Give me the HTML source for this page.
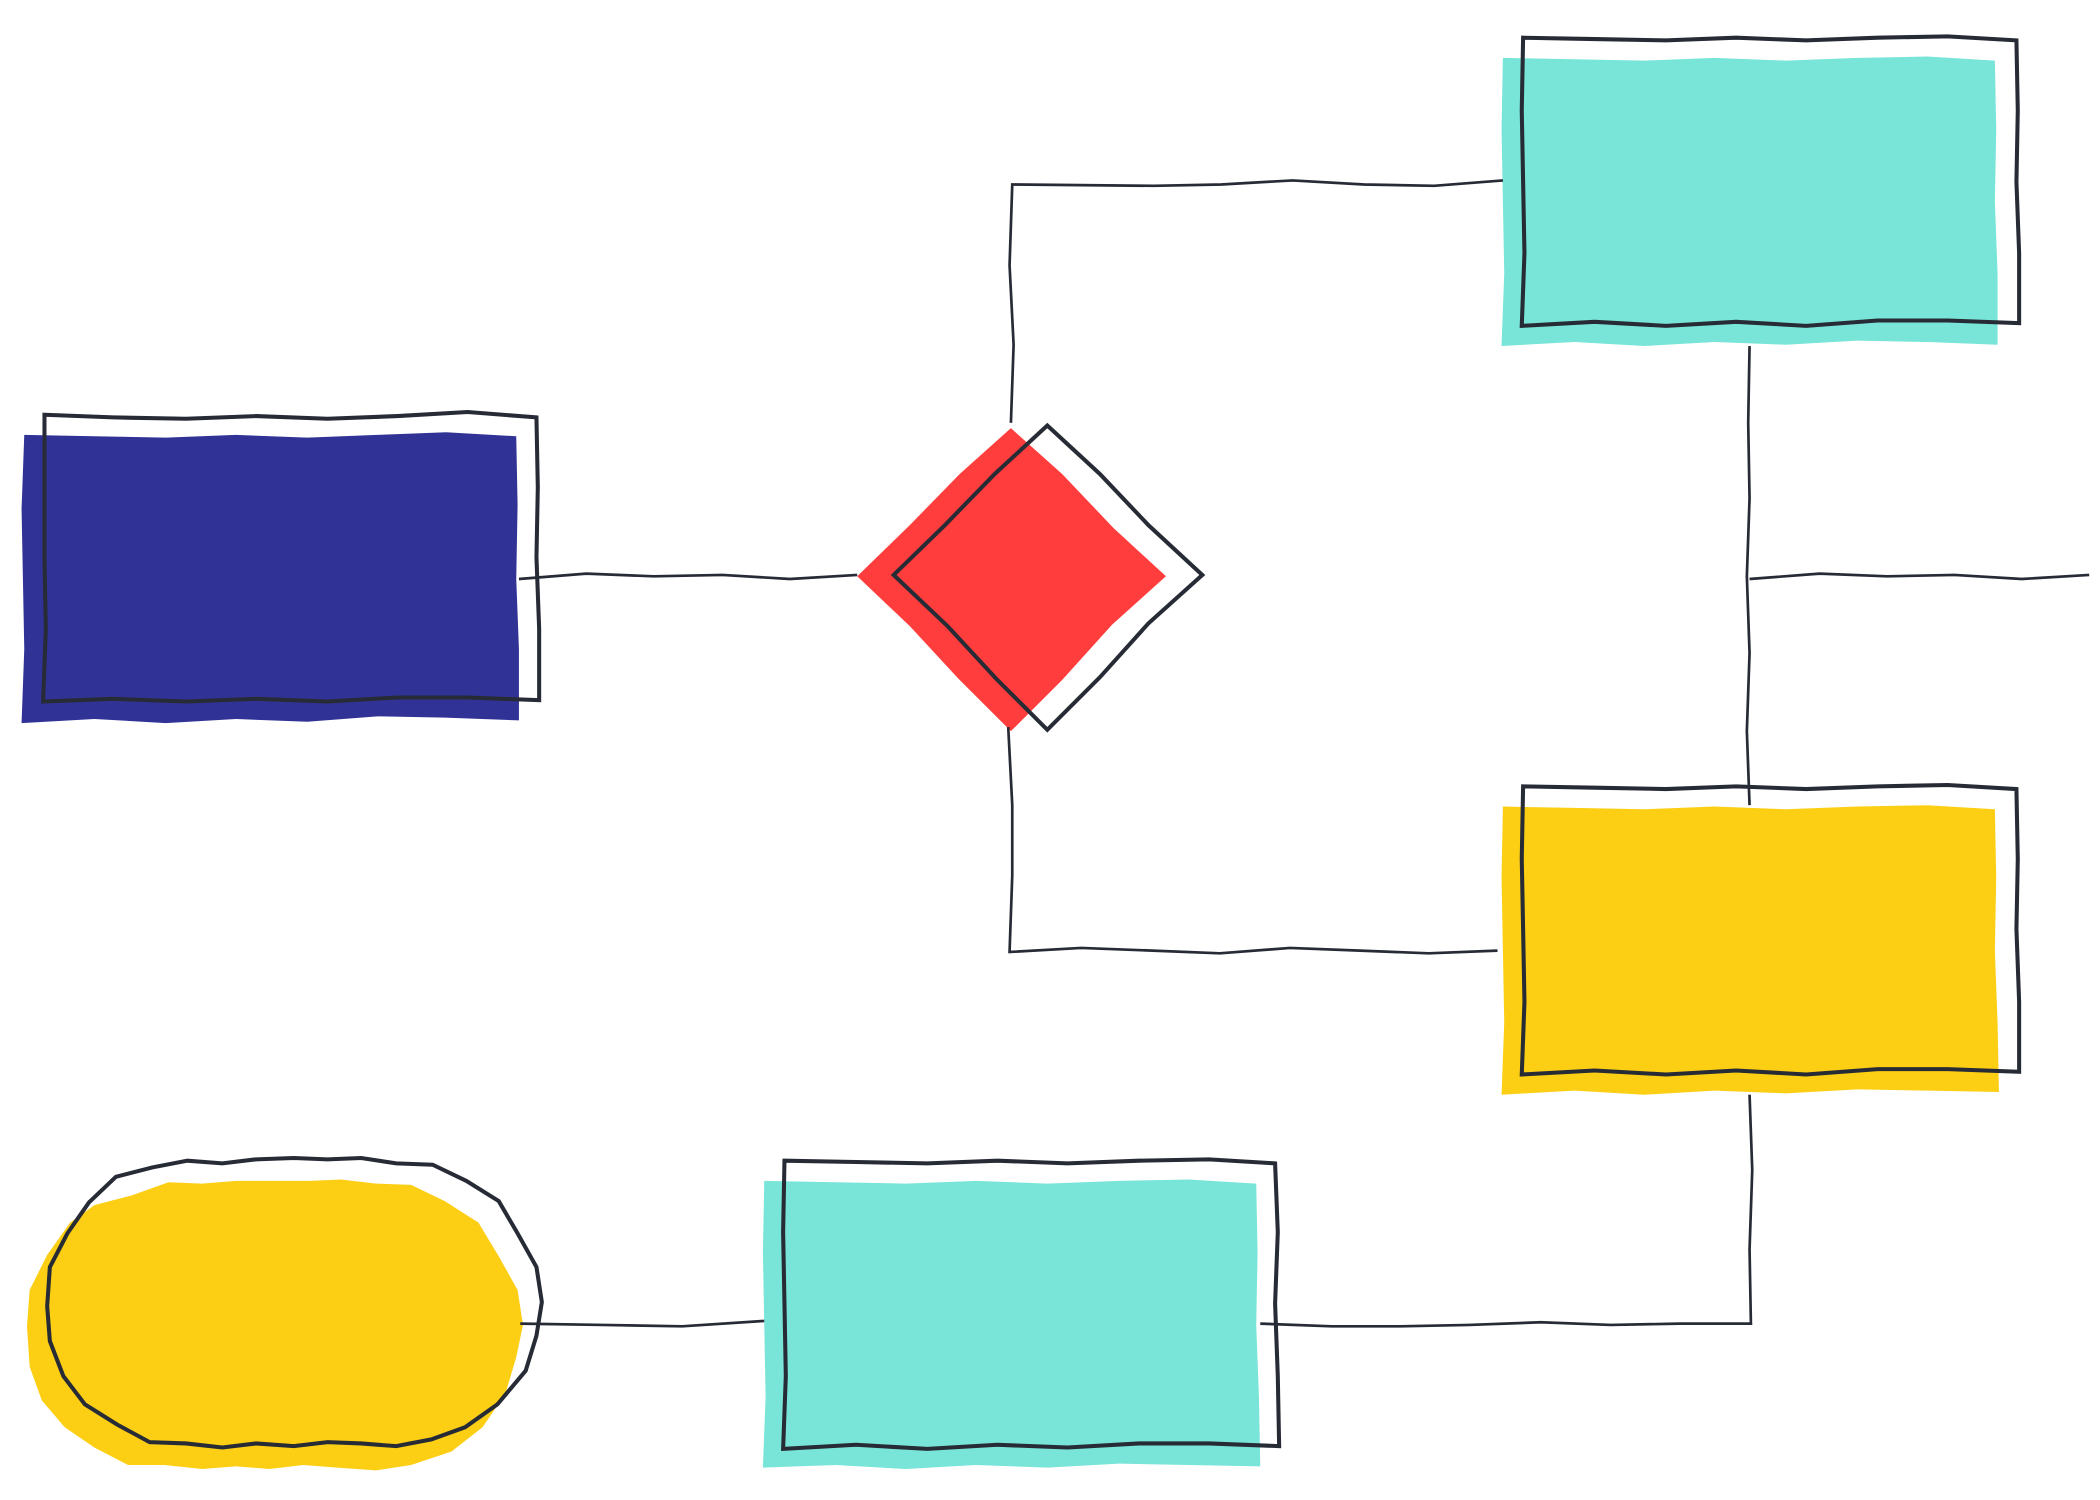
<!DOCTYPE html>
<html><head><meta charset="utf-8"><style>html,body{margin:0;padding:0;background:#fff}svg{display:block}</style></head>
<body>
<svg width="2100" height="1500" viewBox="0 0 1558 1114" preserveAspectRatio="none" xmlns="http://www.w3.org/2000/svg">
<g stroke="none">
<polygon fill="#303395" points="18,323 70,324 123,325 175,323 228,325 280,323 331,321 383,324 384,375 383,430 385,482 385,535 330,533 280,532 228,536 175,534 123,537 70,534 16,537 18,482 17,430 16,378"/>
<polygon fill="#ff3d3d" points="750,318 788,352 826,392 865,428 825,464 788,505 750,543 711,504 675,465 636,428 675,390 712,352"/>
<polygon fill="#78e5d8" points="1115,43 1168,44 1220,45 1272,43 1325,45 1378,43 1430,42 1480,45 1481,96 1480,150 1482,203 1482,256 1430,254 1378,253 1325,256 1272,254 1220,257 1168,254 1114,257 1116,203 1115,150 1114,96"/>
<polygon fill="#fccf14" points="1115,599 1168,600 1220,601 1272,599 1325,601 1378,599 1430,598 1480,601 1481,652 1480,706 1482,759 1483,811 1430,810 1378,809 1325,812 1272,810 1220,813 1168,810 1114,813 1116,759 1115,706 1114,652"/>
<polygon fill="#78e5d8" points="567,877 620,878 672,879 724,877 777,879 830,877 882,876 932,879 933,930 932,984 934,1037 935,1089 882,1088 830,1087 777,1090 724,1088 672,1091 620,1088 566,1090 568,1037 567,984 566,930"/>
<polygon fill="#fccf14" points="97,888 125,878 150,879 175,877 200,877 230,877 253,876 279,879 305,880 330,892 355,908 370,933 384,958 388,984 383,1008 375,1035 358,1060 335,1078 305,1088 279,1092 250,1090 225,1088 200,1091 175,1089 150,1091 122,1088 95,1088 70,1075 48,1060 31,1040 22,1015 20,985 22,958 35,932 52,908 70,895"/>
</g>
<g fill="none" stroke="#272b35" stroke-width="2" stroke-linejoin="miter">
<polyline points="385,430 435,426 485,428 536,427 586,430 636,427"/>
<polyline points="750,314 752,256 749,197 751,137 856,138 906,137 959,134 1012,137 1064,138 1115,134"/>
<polyline points="748,540 751,598 751,650 749,707 802,704 855,706 905,708 957,704 1009,706 1060,708 1111,706"/>
<polyline points="1298,257 1297,314 1298,370 1296,428 1298,485 1296,543 1298,598"/>
<polyline points="1298,430 1350,426 1400,428 1450,427 1500,430 1550,427"/>
<polyline points="1298,813 1300,869 1298,928 1299,983 1246,983 1195,984 1143,982 1090,984 1039,985 988,985 935,983"/>
<polyline points="386,983 447,984 506,985 567,981"/>
</g>
<g fill="none" stroke="#272b35" stroke-width="3">
<polygon points="33,308 84,310 138,311 190,309 243,311 295,309 347,306 398,310 399,362 398,414 400,467 400,520 347,518 295,518 243,521 190,519 138,521 84,519 32,521 34,467 33,414 33,362"/>
<polygon points="777,316 816,352 852,390 892,427 852,463 816,503 777,542 739,504 703,465 663,427 701,390 738,352"/>
<polygon points="1130,28 1183,29 1236,30 1288,28 1340,30 1393,28 1445,27 1496,30 1497,82 1496,135 1498,188 1498,240 1445,238 1393,238 1340,242 1288,239 1236,242 1183,239 1129,242 1131,188 1130,135 1129,82"/>
<polygon points="1130,584 1183,585 1236,586 1288,584 1340,586 1393,584 1445,583 1496,586 1497,638 1496,690 1498,744 1498,796 1445,794 1393,794 1340,798 1288,795 1236,798 1183,795 1129,798 1131,744 1130,690 1129,638"/>
<polygon points="582,862 635,863 688,864 740,862 792,864 845,862 897,861 946,864 948,915 946,968 948,1022 949,1074 897,1072 845,1072 792,1075 740,1073 688,1076 635,1073 581,1076 583,1022 582,968 581,915"/>
<polygon points="86,874 113,867 139,862 165,864 190,861 218,860 243,861 268,860 294,864 321,865 346,877 370,892 384,916 398,941 402,967 398,992 390,1018 369,1043 345,1060 320,1069 294,1074 268,1072 243,1071 218,1074 190,1072 165,1075 138,1072 111,1071 87,1058 63,1043 47,1022 37,996 35,970 37,941 50,916 66,893"/>
</g>
</svg>
</body></html>
